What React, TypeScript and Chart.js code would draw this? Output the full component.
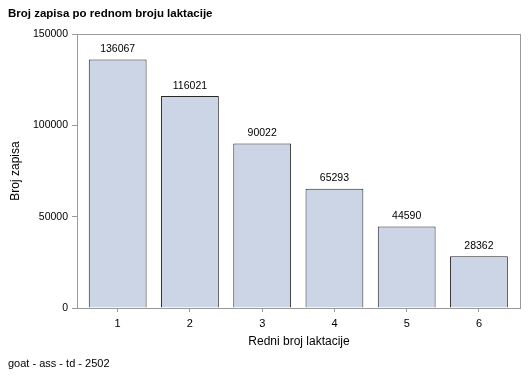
import { useEffect, useRef } from 'react';
import { Chart, registerables } from 'chart.js';
Chart.register(...registerables);

const categories = ['1', '2', '3', '4', '5', '6'];
const counts = [136067, 116021, 90022, 65293, 44590, 28362];
const yMin = 0;
const yMax = 150000;
const yStep = 50000;
const titleText = 'Broj zapisa po rednom broju laktacije';
const footnoteText = 'goat - ass - td - 2502';
const xTitle = 'Redni broj laktacije';
const yTitle = 'Broj zapisa';

const FONT = '"Liberation Sans", Arial, sans-serif';

export default function App() {
  const ref = useRef<HTMLCanvasElement>(null);
  useEffect(() => {
    if (!ref.current) return;
    const points = categories.map((_, i) => ({ x: i + 1, y: counts[i] }));
    const deco = {
      id: 'deco',
      afterDatasetsDraw(chart: any) {
        const { ctx, chartArea } = chart;
        ctx.save();
        ctx.strokeStyle = '#9a9a9a';
        ctx.lineWidth = 1;
        ctx.strokeRect(
          Math.round(chartArea.left) + 0.5,
          Math.round(chartArea.top) + 0.5,
          Math.round(chartArea.right - chartArea.left) - 1,
          Math.round(chartArea.bottom - chartArea.top)
        );
        const meta = chart.getDatasetMeta(0);
        ctx.fillStyle = '#000';
        ctx.font = `10.5px ${FONT}`;
        ctx.textAlign = 'center';
        ctx.textBaseline = 'bottom';
        meta.data.forEach((el: any, i: number) => {
          ctx.fillText(String(counts[i]), el.x, el.y - 5);
        });
        ctx.restore();
      },
      afterDraw(chart: any) {
        const { ctx } = chart;
        ctx.save();
        ctx.fillStyle = '#000';
        ctx.textAlign = 'left';
        ctx.textBaseline = 'middle';
        ctx.font = `bold 11.5px ${FONT}`;
        ctx.fillText(titleText, 8, 14);
        ctx.font = `11px ${FONT}`;
        ctx.fillText(footnoteText, 8, 364);
        ctx.restore();
      },
    };
    const chart = new Chart(ref.current, {
      type: 'bar',
      data: {
        datasets: [
          {
            data: points,
            backgroundColor: '#cbd5e6',
            borderColor: '#262626',
            borderWidth: 1,
            categoryPercentage: 1,
            barPercentage: 0.8,
          },
        ],
      },
      options: {
        responsive: false,
        animation: false,
        layout: { padding: { left: 0, right: 8, top: 34, bottom: 0 } },
        plugins: { legend: { display: false }, title: { display: false }, tooltip: { enabled: false } },
        scales: {
          x: {
            type: 'linear',
            min: 0.437,
            max: 6.582,
            offset: false,
            grid: { display: true, drawOnChartArea: false, color: '#9a9a9a', tickLength: 4, offset: false },
            border: { display: false },
            ticks: {
              color: '#000',
              font: { family: FONT, size: 11 },
              padding: 5,
              callback: (v: any) => categories[Number(v) - 1] ?? '',
            },
            afterBuildTicks(scale: any) {
              scale.ticks = categories.map((_, i) => ({ value: i + 1 }));
            },
            title: { display: true, text: xTitle, color: '#000', font: { family: FONT, size: 12 }, padding: { top: 0, bottom: 29 } },
            afterFit(scale: any) { scale.height = 70; },
          },
          y: {
            min: yMin,
            max: yMax,
            grid: { display: true, drawOnChartArea: false, color: '#9a9a9a', tickLength: 5 },
            border: { display: false },
            ticks: {
              stepSize: yStep,
              color: '#000',
              font: { family: FONT, size: 10.5 },
              padding: 4,
              callback: (v: any) => String(v),
            },
            title: { display: true, text: yTitle, color: '#000', font: { family: FONT, size: 12 }, padding: { top: 8, bottom: 0 } },
            afterFit(scale: any) { scale.width = 77; },
          },
        },
      },
      plugins: [deco],
    });
    return () => chart.destroy();
  }, []);
  return (
    <canvas
      ref={ref}
      width={529}
      height={378}
      style={{ position: 'fixed', left: 0, top: 0, display: 'block', background: '#fff' }}
    />
  );
}
